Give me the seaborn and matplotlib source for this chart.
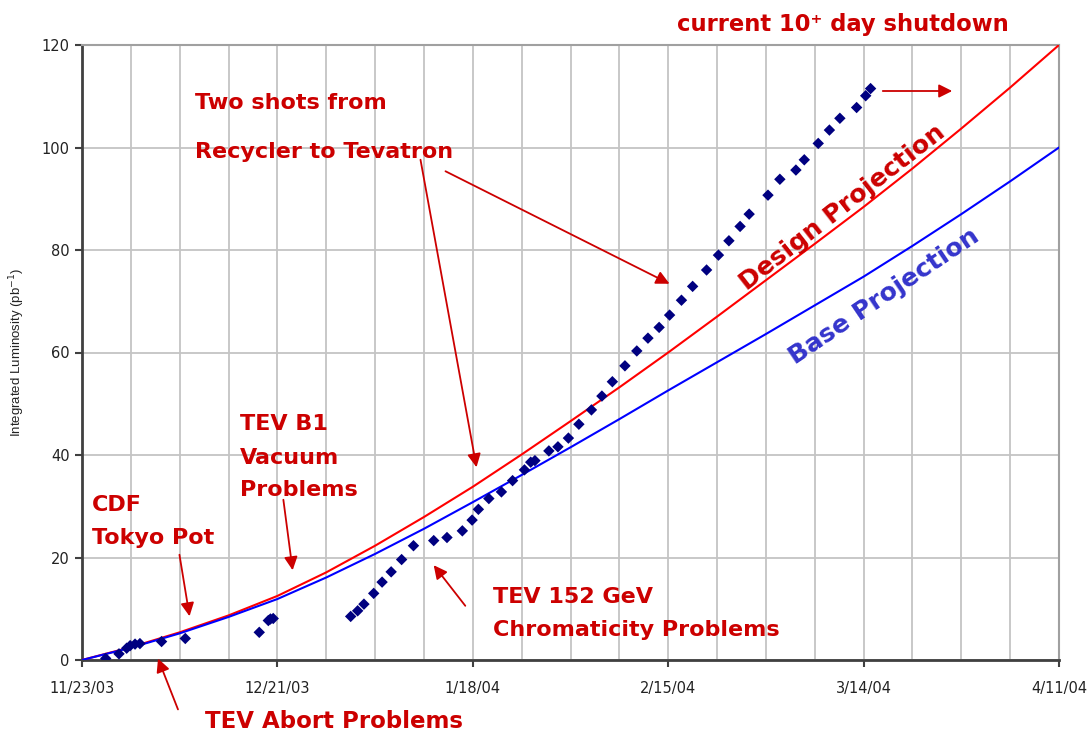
import numpy as np
import pandas as pd
import matplotlib
matplotlib.use("Agg")
import matplotlib.pyplot as plt
import matplotlib.dates as mdates
import matplotlib.ticker as mticker
import seaborn as sns

# ---------------- data ----------------
start_date = "2003-11-23"
proj_days = [0, 7, 14, 21, 28, 35, 42, 49, 56, 63, 70, 77, 84, 91, 98, 105, 112, 119, 126, 133, 140]
design_proj = [0, 2.5, 5.4, 8.7, 12.5, 17.1, 22.3, 27.9, 33.8, 40.1, 46.6, 53.2, 60.0, 67.0, 74.1,
               81.2, 88.4, 95.9, 103.7, 111.7, 120.0]
base_proj = [0, 2.4, 5.2, 8.4, 11.9, 16.1, 20.7, 25.6, 30.8, 36.1, 41.5, 47.0, 52.6, 58.1, 63.6,
             69.2, 74.8, 80.8, 87.0, 93.4, 100.0]

obs_days = [3.4, 5.3, 6.4, 6.9, 7.6, 8.3, 11.4, 14.8, 25.4, 26.7, 27.0, 27.4,
            38.5, 39.5, 40.4, 41.8, 43.0, 44.3, 45.8, 47.5, 50.4, 52.3, 54.5, 55.9, 56.8,
            58.3, 60.1, 61.7, 63.4, 64.3, 64.9, 66.9, 68.2, 69.7, 71.2, 73.0, 74.5, 76.0,
            77.8, 79.5, 81.1, 82.7, 84.2, 85.9, 87.5, 89.5, 91.2, 92.7, 94.3, 95.6,
            98.3, 100.0, 102.3, 103.5, 105.5, 107.1, 108.6, 111.0, 112.3, 113.0]
obs_lum = [0.3, 1.2, 2.3, 2.8, 3.1, 3.2, 3.6, 4.2, 5.4, 7.7, 8.0, 8.1,
           8.5, 9.6, 10.9, 13.0, 15.2, 17.2, 19.6, 22.3, 23.3, 23.9, 25.2, 27.3, 29.4,
           31.5, 32.8, 35.0, 37.1, 38.6, 38.9, 40.8, 41.6, 43.3, 46.0, 48.8, 51.5, 54.3,
           57.4, 60.3, 62.8, 64.9, 67.3, 70.2, 72.9, 76.1, 79.0, 81.8, 84.6, 87.0,
           90.7, 93.8, 95.6, 97.6, 100.8, 103.4, 105.7, 107.8, 110.1, 111.5]

xtick_labels = ["11/23/03", "12/21/03", "1/18/04", "2/15/04", "3/14/04", "4/11/04"]
ytick_values = [0, 20, 40, 60, 80, 100, 120]

# ---------------- frames ----------------
t0 = pd.Timestamp(start_date)
proj_df = pd.DataFrame({
    "date": t0 + pd.to_timedelta(proj_days, unit="D"),
    "Design": design_proj,
    "Base": base_proj,
})
obs_df = pd.DataFrame({
    "date": t0 + pd.to_timedelta(obs_days, unit="D"),
    "lum": obs_lum,
})

# ---------------- figure ----------------
sns.set_style("white")
plt.rcParams["font.family"] = ["DejaVu Sans"]

W, H = 1090, 735
fig = plt.figure(figsize=(W / 100, H / 100), dpi=100)
ax = fig.add_axes([82 / W, 75 / H, 977 / W, 615 / H])

sns.lineplot(data=proj_df, x="date", y="Design", ax=ax, color="#ff0000", lw=1.5, zorder=3)
sns.lineplot(data=proj_df, x="date", y="Base", ax=ax, color="#0000ff", lw=1.5, zorder=3)
sns.scatterplot(data=obs_df, x="date", y="lum", ax=ax, marker="D", s=34,
                color="#000080", edgecolor="none", linewidth=0, zorder=4)

tick_dates = pd.to_datetime(xtick_labels, format="%m/%d/%y")
ax.set_xlim(tick_dates[0], tick_dates[-1])
ax.set_ylim(ytick_values[0], ytick_values[-1])
ax.set_xticks(mdates.date2num(tick_dates))
ax.set_xticklabels(xtick_labels)
weeks = pd.date_range(tick_dates[0], tick_dates[-1], freq="7D")
ax.xaxis.set_minor_locator(mticker.FixedLocator(mdates.date2num(weeks)))
ax.set_yticks(ytick_values)

ax.set_axisbelow(True)
ax.grid(False)
ax.grid(which="minor", axis="x", color="#c4c4c4", lw=1.3)
ax.grid(which="major", axis="x", color="#c4c4c4", lw=1.3)
ax.grid(which="major", axis="y", color="#c4c4c4", lw=1.3)

ax.tick_params(axis="both", which="major", direction="out", length=5, width=1.5,
               color="#404040", labelsize=10.5, labelcolor="#222222", pad=4)
ax.tick_params(axis="x", which="major", pad=10)
ax.tick_params(axis="x", which="minor", length=0)
ax.tick_params(left=True, bottom=True)

for s in ["left", "bottom"]:
    ax.spines[s].set_color("#404040")
    ax.spines[s].set_linewidth(2)
for s in ["top", "right"]:
    ax.spines[s].set_color("#a0a0a0")
    ax.spines[s].set_linewidth(1.5)

ax.set_xlabel("")
ax.set_ylabel("Integrated Luminosity (pb$^{-1}$)", fontsize=9.5, color="#222222",
              family=["Liberation Sans", "DejaVu Sans"])
ax.yaxis.set_label_coords((27 - 82) / 977, 0.5)

# ---------------- annotations ----------------
RED = "#cc0000"
AFONT = ["DejaVu Sans"]


def fp(x, y):
    return (x / W, 1 - y / H)


def label(x, y, s, size=16, color=RED, rot=0, ha="left"):
    fig.text(*fp(x, y), s, ha=ha, va="center", fontsize=size, color=color,
             fontweight="bold", family=AFONT, rotation=rot, rotation_mode="anchor")


def arrow(x0, y0, x1, y1):
    fig.add_artist(matplotlib.patches.FancyArrowPatch(
        fp(x0, y0), fp(x1, y1), transform=fig.transFigure,
        arrowstyle="-|>,head_length=8,head_width=4", color=RED, lw=1.3))


label(677, 24, "current 10\u207a day shutdown", size=16.3)
label(195, 103, "Two shots from", size=16)
label(195, 152, "Recycler to Tevatron", size=16)
label(240, 424, "TEV B1", size=16)
label(240, 458, "Vacuum", size=16)
label(240, 490, "Problems", size=16)
label(92, 505, "CDF", size=16)
label(92, 538, "Tokyo Pot", size=16)
label(493, 597, "TEV 152 GeV", size=16)
label(493, 630, "Chromaticity Problems", size=16)
label(205, 722, "TEV Abort Problems", size=16.5)
label(842, 208, "Design Projection", size=18.3, rot=38, ha="center")
label(884, 296, "Base Projection", size=18.3, color="#3434cc", rot=34, ha="center")

arrow(420, 157, 477, 470)
arrow(443, 170, 672, 285)
arrow(179, 552, 190, 619)
arrow(283, 497, 293, 573)
arrow(467, 608, 432, 563)
arrow(179, 712, 157, 656)
arrow(880, 91, 955, 91)

fig.savefig("out.png", dpi=100)
